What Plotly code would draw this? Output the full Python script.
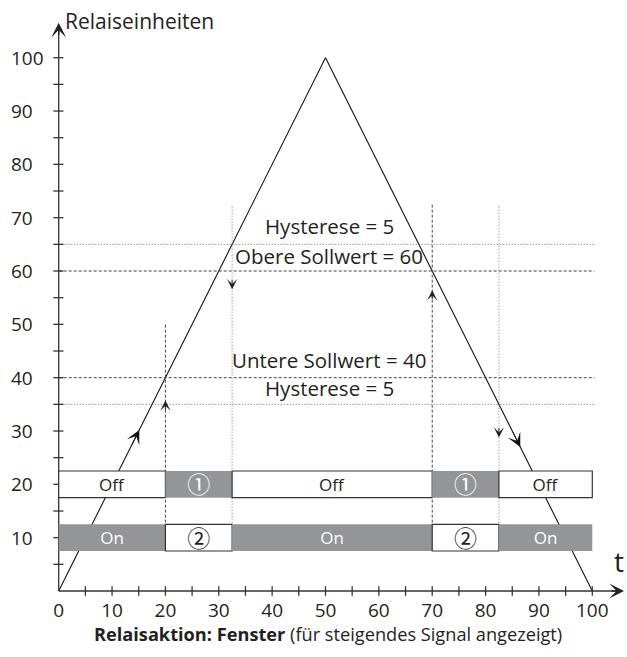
import plotly.graph_objects as go

# ---------------- data ----------------
signal_t = [0, 50, 100]
signal_v = [0, 100, 0]

upper_setpoint = 60
lower_setpoint = 40
hysteresis = 5

switch_t = [0, 20, 32.5, 70, 82.5, 100]
relay1_labels = ["Off", "①", "Off", "①", "Off"]
relay1_active = [False, True, False, True, False]
relay2_labels = ["On", "②", "On", "②", "On"]
relay2_active = [True, False, True, False, True]
relay1_level = 20
relay2_level = 10
row_height = 5

event_t = [20, 32.5, 70, 82.5]
event_top = [50, 72.5, 72.5, 72.5]
event_dashed = [True, False, True, False]
event_arrow_v = [35.7, 56.6, 56.4, 28.8]
event_arrow_dir = [1, -1, 1, -1]

signal_arrow_tip = [(15.1, 30.2), (86.5, 27.0)]
signal_arrow_tail = [(13.6, 27.2), (85.0, 30.0)]

x_tick_labels = list(range(0, 101, 10))
x_tick_marks = list(range(5, 101, 5))
y_tick_labels = list(range(10, 101, 10))
y_tick_marks = list(range(5, 101, 5))

y_title = "Relaiseinheiten"
x_title = "t"
caption_bold = "Relaisaktion: Fenster"
caption_rest = "(für steigendes Signal angezeigt)"

# ---------------- layout geometry ----------------
W, H = 627, 657
X0PX, XS = 58.7, 5.336   # pixel of t=0, pixels per unit
Y0PX, YS = 591.0, 5.333  # pixel of value=0, pixels per unit
x_range = [-X0PX / XS, (W - X0PX) / XS]
y_range = [-(H - Y0PX) / YS, Y0PX / YS]
y_axis_end = (Y0PX - 22.7) / YS
x_axis_end = (624 - X0PX) / XS

FONT = "Open Sans"
SYM_FONT = "Open Sans, Noto Sans CJK JP"
TXT = "#231f20"
GRAY = "#939598"
DASH = "3px,2px"
DOT = "1px,2px"


def px_x(p):
    return p / W


def px_y(p):
    return (H - p) / H


fig = go.Figure()

# signal
fig.add_trace(go.Scatter(x=signal_t, y=signal_v, mode="lines",
                         line=dict(color="#111", width=1.1),
                         hoverinfo="skip", showlegend=False))

# setpoint and hysteresis lines
h_lines = [
    (upper_setpoint + hysteresis, DOT, "#666"),
    (upper_setpoint, DASH, "#444"),
    (lower_setpoint, DASH, "#444"),
    (lower_setpoint - hysteresis, DOT, "#666"),
]
for yv, dash, col in h_lines:
    fig.add_trace(go.Scatter(x=[0, 100.4], y=[yv, yv], mode="lines",
                             line=dict(color=col, width=1, dash=dash),
                             hoverinfo="skip", showlegend=False))

# switching event lines
for t, top, dashed in zip(event_t, event_top, event_dashed):
    fig.add_trace(go.Scatter(x=[t, t], y=[relay2_level, top], mode="lines",
                             line=dict(color="#444" if dashed else "#777", width=1,
                                       dash=DASH if dashed else DOT),
                             hoverinfo="skip", showlegend=False))

# axis lines and tick marks (crossing the axes)
tx, ty = [0, 0, None, 0, x_axis_end - 1, None], [y_axis_end - 1, 0, None, 0, 0, None]
for v in x_tick_marks:
    tx += [v, v, None]
    ty += [-0.9, 0.9, None]
for v in y_tick_marks:
    tx += [-1.0, 0.9, None]
    ty += [v, v, None]
fig.add_trace(go.Scatter(x=tx, y=ty, mode="lines",
                         line=dict(color="#333", width=1.3),
                         hoverinfo="skip", showlegend=False))

# relay state bars (overlay subplot so they sit on top of the lines)
starts = switch_t[:-1]
widths = [b - a for a, b in zip(switch_t[:-1], switch_t[1:])]


def bar_row(level, labels, active):
    return go.Bar(
        orientation="h", y=[level] * len(labels), x=widths, base=starts,
        width=row_height, text=labels, textposition="inside",
        insidetextanchor="middle", textangle=0, constraintext="none",
        textfont=dict(family=SYM_FONT,
                      size=[17 if lab.isascii() else 23 for lab in labels],
                      color=["white" if a else TXT for a in active]),
        marker=dict(color=[GRAY if a else "white" for a in active],
                    line=dict(color="#333",
                              width=[0 if a else 1.2 for a in active])),
        xaxis="x2", yaxis="y2", hoverinfo="skip", showlegend=False)


fig.add_trace(bar_row(relay1_level, relay1_labels, relay1_active))
fig.add_trace(bar_row(relay2_level, relay2_labels, relay2_active))

ann = []
# y tick labels (left aligned as in the reference)
for v in y_tick_labels:
    ann.append(dict(x=px_x(8.5), xref="paper", xanchor="left",
                    y=v, yref="y", yanchor="middle", text=str(v),
                    showarrow=False, font=dict(family=FONT, size=19, color=TXT)))

# axis arrow heads
ann.append(dict(x=0, y=y_axis_end, ax=0, ay=y_axis_end - 2.6, axref="x", ayref="y",
                xref="x", yref="y", text="", showarrow=True, arrowhead=3,
                arrowsize=1.9, arrowwidth=1.3, arrowcolor="#222"))
ann.append(dict(x=x_axis_end, y=0, ax=x_axis_end - 2.6, ay=0, axref="x", ayref="y",
                xref="x", yref="y", text="", showarrow=True, arrowhead=3,
                arrowsize=1.9, arrowwidth=1.3, arrowcolor="#222"))

# arrows on the signal
for (xt, yt), (xa, ya) in zip(signal_arrow_tip, signal_arrow_tail):
    ann.append(dict(x=xt, y=yt, ax=xa, ay=ya, axref="x", ayref="y",
                    xref="x", yref="y", text="", showarrow=True, arrowhead=3,
                    arrowsize=2.3, arrowwidth=1, arrowcolor="#111"))

# arrows on switching lines
for t, v, d in zip(event_t, event_arrow_v, event_arrow_dir):
    ann.append(dict(x=t, y=v, ax=t, ay=v - d * 2.0, axref="x", ayref="y",
                    xref="x", yref="y", text="", showarrow=True, arrowhead=3,
                    arrowsize=1.7, arrowwidth=1, arrowcolor="#222"))

# setpoint labels
lab_x = (329 - X0PX) / XS
labels = [
    (f"Hysterese = {hysteresis}", 226),
    (f"Obere Sollwert = {upper_setpoint}", 256),
    (f"Untere Sollwert = {lower_setpoint}", 360),
    (f"Hysterese = {hysteresis}", 388),
]
for txt, py in labels:
    ann.append(dict(x=lab_x, y=(Y0PX - py) / YS, xref="x", yref="y",
                    text=txt, showarrow=False, xanchor="center", yanchor="middle",
                    font=dict(family=FONT, size=20.5, color=TXT)))

# titles
ann.append(dict(x=px_x(63), y=px_y(20.5), xref="paper", yref="paper",
                xanchor="left", yanchor="middle", text=y_title, showarrow=False,
                font=dict(family=FONT, size=21, color=TXT)))
ann.append(dict(x=px_x(619), y=px_y(561), xref="paper", yref="paper",
                xanchor="center", yanchor="middle", text=x_title, showarrow=False,
                font=dict(family=FONT, size=28, color=TXT)))
ann.append(dict(x=px_x(328), y=px_y(634), xref="paper", yref="paper",
                xanchor="center", yanchor="middle",
                text=f"<b>{caption_bold}</b> {caption_rest}", showarrow=False,
                font=dict(family=FONT, size=18.2, color=TXT)))

fig.update_layout(
    width=W, height=H, autosize=False,
    margin=dict(l=0, r=0, t=0, b=0, pad=0),
    paper_bgcolor="white", plot_bgcolor="white",
    barmode="overlay", showlegend=False,
    font=dict(family=FONT, color=TXT),
    xaxis=dict(range=x_range, showgrid=False, zeroline=False, showline=False,
               anchor="free", position=px_y(Y0PX),
               tickmode="array", tickvals=x_tick_labels,
               ticks="", ticklabelstandoff=6,
               tickfont=dict(family=FONT, size=19, color=TXT), automargin=False),
    yaxis=dict(range=y_range, showgrid=False, zeroline=False, showline=False,
               showticklabels=False, ticks="", automargin=False),
    xaxis2=dict(range=x_range, overlaying="x", visible=False, anchor="y2"),
    yaxis2=dict(range=y_range, overlaying="y", visible=False, anchor="x2"),
    annotations=ann,
)

fig.write_html(
    "out.html",
    config={"displayModeBar": False},
    post_script="document.body.style.margin='0';document.body.style.overflow='hidden';",
)
